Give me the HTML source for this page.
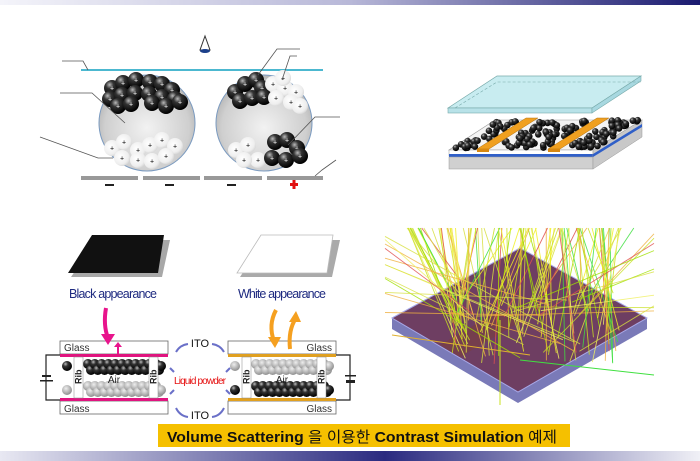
<!DOCTYPE html>
<html><head><meta charset="utf-8"><style>
html,body{margin:0;padding:0;background:#fff;width:700px;height:461px;overflow:hidden}
svg{display:block}
text{font-family:"Liberation Sans",sans-serif}
</style></head><body>
<svg id="s" width="700" height="461" viewBox="0 0 700 461" xmlns="http://www.w3.org/2000/svg">
<defs>
<linearGradient id="tb" x1="0" x2="1"><stop offset="0" stop-color="#f4f4fa"/><stop offset="0.5" stop-color="#b8b8d8"/><stop offset="1" stop-color="#1a1a70"/></linearGradient>
<linearGradient id="bb" x1="0" x2="1"><stop offset="0" stop-color="#e8e8f2"/><stop offset="0.55" stop-color="#2a2a80"/><stop offset="1" stop-color="#f0f0f6"/></linearGradient>
<radialGradient id="cg" cx="0.5" cy="0.55" r="0.55"><stop offset="0" stop-color="#f2f2f2"/><stop offset="0.8" stop-color="#cfcfcf"/><stop offset="1" stop-color="#b5b5b5"/></radialGradient>
<radialGradient id="bk" cx="0.35" cy="0.3" r="0.7"><stop offset="0" stop-color="#bbb"/><stop offset="0.35" stop-color="#333"/><stop offset="1" stop-color="#000"/></radialGradient>
<radialGradient id="wh" cx="0.4" cy="0.4" r="0.7"><stop offset="0" stop-color="#fff"/><stop offset="0.7" stop-color="#eee"/><stop offset="1" stop-color="#ccc"/></radialGradient>
<radialGradient id="gy" cx="0.4" cy="0.35" r="0.7"><stop offset="0" stop-color="#eee"/><stop offset="1" stop-color="#888"/></radialGradient>
</defs>
<rect x="0" y="0" width="700" height="5" fill="url(#tb)"/>
<rect x="0" y="451" width="700" height="10" fill="url(#bb)"/>

<line x1="81" y1="70" x2="323" y2="70" stroke="#4cb8d0" stroke-width="2"/>
<path d="M205 36 L200 50 L210 50 Z" fill="none" stroke="#333" stroke-width="1"/>
<ellipse cx="205" cy="51" rx="5" ry="2" fill="#1b3f8a"/>
<circle cx="147" cy="123" r="48" fill="url(#cg)" stroke="#7a9ac0" stroke-width="1"/>
<circle cx="264" cy="123" r="48" fill="url(#cg)" stroke="#7a9ac0" stroke-width="1"/>
<g id="parts"></g>
<g fill="#999"><rect x="81" y="176" width="57" height="4"/><rect x="143" y="176" width="57" height="4"/><rect x="204" y="176" width="58" height="4"/><rect x="267" y="176" width="56" height="4"/></g>
<g fill="#222"><rect x="105" y="184" width="9" height="2"/><rect x="165" y="184" width="9" height="2"/><rect x="227" y="184" width="9" height="2"/></g>
<g fill="#e01010"><rect x="290" y="183" width="8" height="3"/><rect x="292.5" y="180" width="3" height="9"/></g>
<g fill="none" stroke="#555" stroke-width="0.8">
<polyline points="62,61 83,61 88,70"/><polyline points="60,93 92,93 125,123"/><polyline points="40,137 98,158 113,158"/>
<polyline points="300,49 277,49 258,75"/><polyline points="297,56 290,56 282,80"/><polyline points="340,117 315,117 288,145"/><polyline points="336,160 322,170 315,176"/>
</g>

<polygon points="449,150 593,150 642,120 495,120" fill="#f4f4f4" stroke="#999" stroke-width="0.6"/>
<rect x="449" y="150" width="144" height="6" fill="#fff" stroke="#999" stroke-width="0.5"/>
<rect x="449" y="154" width="144" height="3" fill="#2f5fc8"/>
<rect x="449" y="157" width="144" height="12" fill="#d0d0d0" stroke="#999" stroke-width="0.5"/>
<polygon points="593,150 642,120 642,137 593,169" fill="#c8c8c8" stroke="#999" stroke-width="0.5"/>
<polygon points="593,154 642,124 642,127 593,157" fill="#2f5fc8"/>
<g id="dots2"></g>
<polygon points="477,149 489,149 538,118 526,118" fill="#f0a020" stroke="#b07010" stroke-width="0.5"/>
<rect x="477" y="149" width="12" height="3" fill="#d88810"/>
<polygon points="548,149 560,149 609,118 597,118" fill="#f0a020" stroke="#b07010" stroke-width="0.5"/>
<rect x="548" y="149" width="12" height="3" fill="#d88810"/>
<polygon points="448,108 592,108 641,76 497,76" fill="#c8ecf0" stroke="#7aa" stroke-width="0.7"/>
<rect x="448" y="108" width="144" height="5" fill="#b8e2e8" stroke="#7aa" stroke-width="0.6"/>
<polygon points="592,108 641,76 641,81 592,113" fill="#a8d8e0" stroke="#7aa" stroke-width="0.6"/>
<polyline points="455,108 497,82 641,82" fill="none" stroke="#7aa" stroke-width="0.6" stroke-dasharray="3,2"/>

<polygon points="71,277 162,277 170,240 96,240" fill="#a8a8a8"/>
<polygon points="68,273 158,273 164,235 92,235" fill="#111"/>
<polygon points="240,277 332,277 340,240 264,240" fill="#aaa"/>
<polygon points="237,273 327,273 333,235 261,235" fill="#fff" stroke="#bbb" stroke-width="0.8"/>
<text x="113" y="298" font-size="12.5" fill="#1e2a80" text-anchor="middle" textLength="88">Black appearance</text>
<text x="282" y="298" font-size="12.5" fill="#1e2a80" text-anchor="middle" textLength="88">White appearance</text>
<g id="cells"></g>
<path d="M106 308 Q103 325 108 338" stroke="#e8148c" stroke-width="4" fill="none"/>
<polygon points="101,334 115,334 108,345" fill="#e8148c"/>
<line x1="118" y1="354" x2="118" y2="346" stroke="#e8148c" stroke-width="2"/>
<polygon points="114,347 122,347 118,342" fill="#e8148c"/>
<path d="M276 310 Q268 325 274 341" stroke="#f5a020" stroke-width="4" fill="none"/>
<polygon points="268,337 281,337 275,348" fill="#f5a020"/>
<path d="M290 349 Q288 330 296 318" stroke="#f5a020" stroke-width="4" fill="none"/>
<polygon points="289,322 301,322 296,311" fill="#f5a020"/>
<text x="200" y="347" font-size="11" fill="#111" text-anchor="middle">ITO</text>
<text x="200" y="419" font-size="11" fill="#111" text-anchor="middle">ITO</text>
<text x="200" y="384" font-size="10" fill="#e51010" text-anchor="middle" textLength="52">Liquid powder</text>
<g stroke="#6a70c8" stroke-width="2" fill="none">
<path d="M188 344 Q180 345 176 352"/><path d="M212 344 Q220 345 224 352"/>
<path d="M188 417 Q180 416 176 408"/><path d="M212 417 Q220 416 224 408"/>
<path d="M174 372 L170 368"/><path d="M174 390 L170 394"/><path d="M226 372 L230 368"/><path d="M226 390 L230 394"/>
</g>

<polygon points="392,318 518,392 518,403 392,329" fill="#7a7ab8"/>
<polygon points="518,392 647,318 647,329 518,403" fill="#7a7ab8"/>
<polygon points="392,318 520,248 647,318 518,392" fill="#6e3e62" stroke="#a8a8e8" stroke-width="1"/>
<polygon points="440,345 500,310 520,322 460,357" fill="#7a4040" opacity="0.6"/>
<g id="rays"></g>

<rect x="158" y="424" width="412" height="23" fill="#f5c000"/>
<text x="167" y="442" font-size="15" font-weight="bold" fill="#111" textLength="390" lengthAdjust="spacingAndGlyphs" font-family="Liberation Sans, Noto Sans CJK KR, sans-serif">Volume Scattering <tspan font-weight="normal">을 이용한</tspan> Contrast Simulation <tspan font-weight="normal">예제</tspan></text>
</svg>
<script>
var NS="http://www.w3.org/2000/svg";
function el(p,t,a){var e=document.createElementNS(NS,t);for(var k in a)e.setAttribute(k,a[k]);document.getElementById(p).appendChild(e);return e;}
var seed=7;function r(){seed=(seed*16807)%2147483647;return seed/2147483647;}
function ball(p,x,y,rad,f,plus){el(p,"circle",{cx:x,cy:y,r:rad,fill:f});if(plus)el(p,"text",{x:x,y:y+2.5,"font-size":7,"text-anchor":"middle",fill:plus}).textContent="+";}
[[112,88],[123,83],[136,80],[150,82],[162,84],[172,90],[110,99],[122,95],[135,93],[149,94],[162,97],[175,99],[118,106],[131,104],[152,103],[166,106],[180,102]].forEach(function(b){ball("parts",b[0],b[1],8,"url(#bk)","#fff");});
[[112,148],[124,142],[138,150],[150,145],[162,140],[175,146],[122,158],[138,160],[152,161],[166,156]].forEach(function(b){ball("parts",b[0],b[1],8,"url(#wh)","#000");});
[[235,92],[245,84],[256,80],[262,88],[240,101],[252,98],[264,97]].forEach(function(b){ball("parts",b[0],b[1],8,"url(#bk)","#fff");});
[[273,84],[285,88],[296,92],[276,98],[291,102],[300,106],[283,78]].forEach(function(b){ball("parts",b[0],b[1],8,"url(#wh)","#000");});
[[236,150],[248,145],[258,160],[244,160]].forEach(function(b){ball("parts",b[0],b[1],8,"url(#wh)","#000");});
[[275,142],[287,140],[297,148],[272,158],[286,160],[300,156]].forEach(function(b){ball("parts",b[0],b[1],8,"url(#bk)","#fff");});
for(var i=0;i<220;i++){var u=r(),v=r();var x=455+u*140+v*45,y=148-v*28;var sx=(x-455-(148-y)*45/28);
 if((sx>20&&sx<40)||(sx>92&&sx<112))continue;el("dots2","circle",{cx:x,cy:y,r:3.3,fill:"url(#bk)"});}
function cell(x0,col,blackTop){
 var g="cells";
 el(g,"rect",{x:x0,y:341,width:108,height:13,fill:"#fff",stroke:"#666","stroke-width":0.8});
 el(g,"rect",{x:x0,y:401,width:108,height:13,fill:"#fff",stroke:"#666","stroke-width":0.8});
 el(g,"rect",{x:x0,y:354,width:108,height:3,fill:col});
 el(g,"rect",{x:x0,y:398,width:108,height:3,fill:col});
 var t1=el(g,"text",{x:blackTop?x0+4:x0+104,y:351,"font-size":10,fill:"#333","text-anchor":blackTop?"start":"end"});t1.textContent="Glass";
 var t2=el(g,"text",{x:blackTop?x0+4:x0+104,y:412,"font-size":10,fill:"#333","text-anchor":blackTop?"start":"end"});t2.textContent="Glass";
 for(var k=0;k<11;k++){var xx=x0+28+k*6.8;
   el(g,"circle",{cx:xx,cy:364,r:5,fill:blackTop?"url(#bk)":"url(#gy)"});
   el(g,"circle",{cx:xx+3,cy:370,r:5,fill:blackTop?"url(#bk)":"url(#gy)"});
   el(g,"circle",{cx:xx,cy:386,r:5,fill:blackTop?"url(#gy)":"url(#bk)"});
   el(g,"circle",{cx:xx+3,cy:392,r:5,fill:blackTop?"url(#gy)":"url(#bk)"});}
 [x0+7,x0+101].forEach(function(xx){el(g,"circle",{cx:xx,cy:366,r:5,fill:blackTop?"url(#bk)":"url(#gy)"});el(g,"circle",{cx:xx,cy:390,r:5,fill:blackTop?"url(#gy)":"url(#bk)"});});
 [x0+14,x0+89].forEach(function(xx){el(g,"rect",{x:xx,y:357,width:9,height:41,fill:"#fff",stroke:"#888","stroke-width":0.5});
   var t=el(g,"text",{x:xx+7.5,y:384,"font-size":9,fill:"#222",transform:"rotate(-90 "+(xx+7.5)+" 384)","font-weight":"bold"});t.textContent="Rib";});
 var a=el(g,"text",{x:x0+54,y:383,"font-size":10,fill:"#222","text-anchor":"middle"});a.textContent="Air";
}
cell(60,"#e0147f",true);cell(228,"#e0a020",false);
el("cells","polyline",{points:"60,355 46,355 46,400 60,400",fill:"none",stroke:"#222","stroke-width":1.2});
el("cells","rect",{x:42,y:375,width:9,height:2,fill:"#222"});el("cells","rect",{x:40,y:380,width:13,height:1.5,fill:"#222"});
el("cells","polyline",{points:"336,355 350,355 350,400 336,400",fill:"none",stroke:"#222","stroke-width":1.2});
el("cells","rect",{x:345,y:375,width:11,height:1.5,fill:"#222"});el("cells","rect",{x:346,y:380,width:9,height:3,fill:"#222"});
var cols=["#f0f020","#c8e020","#40e040","#e05050","#f0b040","#d8e040","#a0e000","#f0f060"];
for(var i=0;i<110;i++){var x1=405+r()*230,y1=228;
 var x2=x1+(r()-0.55)*90,y2=290+r()*75;
 if(x2<450)x2=450+r()*20;if(x2>620)x2=620-r()*20;
 el("rays","line",{x1:x1,y1:y1,x2:x2,y2:y2,stroke:cols[Math.floor(r()*cols.length)],"stroke-width":0.9,opacity:0.85});}
for(var i=0;i<22;i++){var left=r()<0.5;var x1=left?385:654,y1=232+r()*90;var x2=470+r()*120,y2=300+r()*60;
 el("rays","line",{x1:x1,y1:y1,x2:x2,y2:y2,stroke:cols[Math.floor(r()*cols.length)],"stroke-width":0.9,opacity:0.8});}
el("rays","line",{x1:520,y1:360,x2:654,y2:375,stroke:"#40e040","stroke-width":1});
el("rays","line",{x1:392,y1:335,x2:530,y2:355,stroke:"#e0b030","stroke-width":1});
el("rays","line",{x1:500,y1:320,x2:500,y2:405,stroke:"#c8e020","stroke-width":1});
</script>
</body></html>
